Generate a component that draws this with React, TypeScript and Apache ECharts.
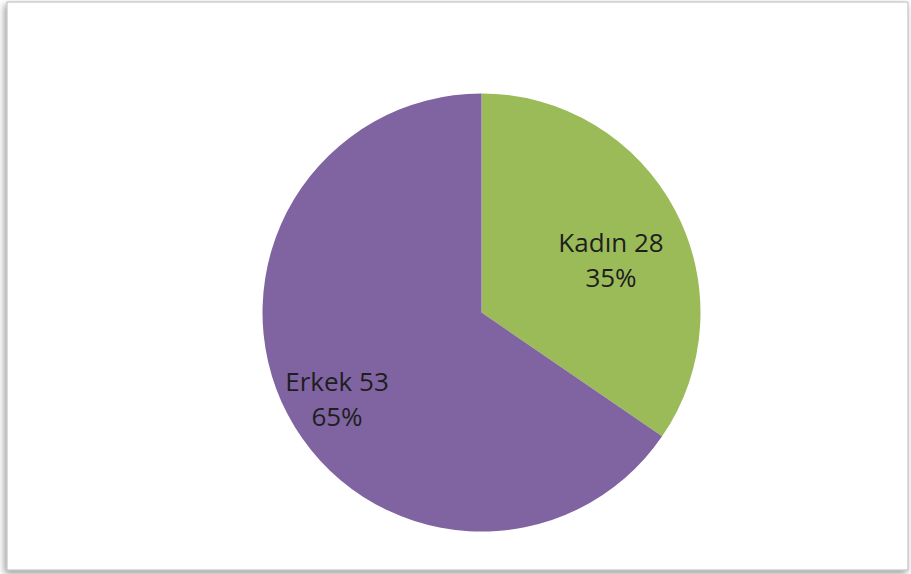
import React, { useEffect, useRef } from "react";
import * as echarts from "echarts";

const categories = ["Kadın", "Erkek"];
const values = [28, 53];
const percents = ["35%", "65%"];
const colors = ["#9BBB59", "#8064A2"];

export default function App() {
  const ref = useRef<HTMLDivElement>(null);
  useEffect(() => {
    if (!ref.current) return;
    const chart = echarts.init(ref.current, null, { renderer: "svg" });
    const labelPos: Record<number, [number, number]> = {
      0: [611, 259],
      1: [337, 398],
    };
    chart.setOption({
      animation: false,
      backgroundColor: "#ffffff",
      graphic: [
        {
          type: "rect",
          z: -10,
          shape: { x: 7, y: 2, width: 901, height: 568 },
          style: {
            fill: "#ffffff",
            stroke: "#b8b8b8",
            lineWidth: 1,
            shadowBlur: 7,
            shadowColor: "rgba(0,0,0,0.4)",
            shadowOffsetX: -2,
            shadowOffsetY: 3,
          },
          silent: true,
        },
      ],
      series: [
        {
          type: "pie",
          center: [481.5, 312.5],
          radius: 219,
          startAngle: 90,
          clockwise: true,
          data: categories.map((c, i) => ({
            name: c,
            value: values[i],
            itemStyle: { color: colors[i] },
            label: {
              formatter: `${c} ${values[i]}\n${percents[i]}`,
            },
          })),
          label: {
            show: true,
            position: "inside",
            color: "#1e1e1e",
            fontFamily: "Open Sans",
            fontSize: 26,
            lineHeight: 35,
            align: "center",
          },
          labelLine: { show: false },
          labelLayout: (params: any) => {
            const p = labelPos[params.dataIndex];
            return { x: p[0], y: p[1], align: "center", verticalAlign: "middle" };
          },
          itemStyle: { borderWidth: 0 },
          emphasis: { disabled: true },
        },
      ],
    });
    return () => chart.dispose();
  }, []);
  return (
    <div
      ref={ref}
      style={{ position: "fixed", left: 0, top: 0, width: 911, height: 574 }}
    />
  );
}
